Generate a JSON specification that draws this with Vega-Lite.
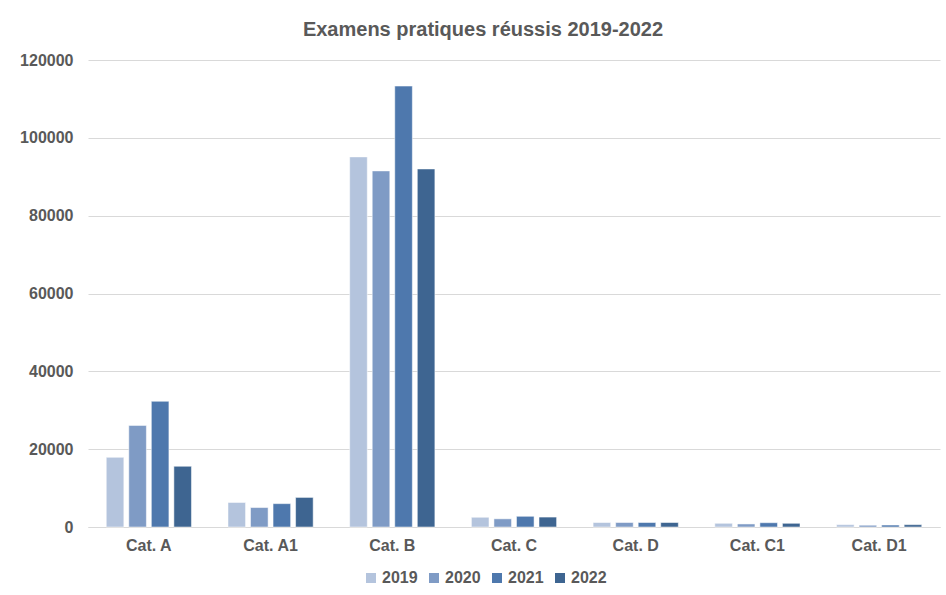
{
  "$schema": "https://vega.github.io/schema/vega-lite/v6.json",
  "autosize": "none",
  "width": 852,
  "height": 467,
  "padding": {"left": 88, "top": 60, "right": 6, "bottom": 68},
  "background": "white",
  "title": {
    "text": "Examens pratiques réussis 2019-2022",
    "font": "Liberation Sans",
    "fontSize": 20,
    "fontWeight": "bold",
    "color": "#595959",
    "anchor": "middle",
    "dx": -31,
    "offset": 12
  },
  "data": {
    "values": [
      {"cat": "Cat. A", "year": "2019", "value": 17900},
      {"cat": "Cat. A", "year": "2020", "value": 26100},
      {"cat": "Cat. A", "year": "2021", "value": 32300},
      {"cat": "Cat. A", "year": "2022", "value": 15600},
      {"cat": "Cat. A1", "year": "2019", "value": 6300},
      {"cat": "Cat. A1", "year": "2020", "value": 5000},
      {"cat": "Cat. A1", "year": "2021", "value": 6000},
      {"cat": "Cat. A1", "year": "2022", "value": 7600},
      {"cat": "Cat. B", "year": "2019", "value": 95100},
      {"cat": "Cat. B", "year": "2020", "value": 91500},
      {"cat": "Cat. B", "year": "2021", "value": 113300},
      {"cat": "Cat. B", "year": "2022", "value": 92000},
      {"cat": "Cat. C", "year": "2019", "value": 2500},
      {"cat": "Cat. C", "year": "2020", "value": 2100},
      {"cat": "Cat. C", "year": "2021", "value": 2750},
      {"cat": "Cat. C", "year": "2022", "value": 2550},
      {"cat": "Cat. D", "year": "2019", "value": 1150},
      {"cat": "Cat. D", "year": "2020", "value": 1150},
      {"cat": "Cat. D", "year": "2021", "value": 1150},
      {"cat": "Cat. D", "year": "2022", "value": 1150},
      {"cat": "Cat. C1", "year": "2019", "value": 950},
      {"cat": "Cat. C1", "year": "2020", "value": 780},
      {"cat": "Cat. C1", "year": "2021", "value": 1100},
      {"cat": "Cat. C1", "year": "2022", "value": 950},
      {"cat": "Cat. D1", "year": "2019", "value": 600},
      {"cat": "Cat. D1", "year": "2020", "value": 450},
      {"cat": "Cat. D1", "year": "2021", "value": 500},
      {"cat": "Cat. D1", "year": "2022", "value": 600}
    ]
  },
  "mark": {"type": "bar", "stroke": "white", "strokeWidth": 0.5},
  "encoding": {
    "x": {
      "field": "cat",
      "type": "nominal",
      "sort": ["Cat. A", "Cat. A1", "Cat. B", "Cat. C", "Cat. D", "Cat. C1", "Cat. D1"],
      "scale": {"paddingInner": 0.3, "paddingOuter": 0.15},
      "axis": {
        "title": null,
        "labelAngle": 0,
        "labelFont": "Liberation Sans",
        "labelFontSize": 16,
        "labelFontWeight": "bold",
        "labelColor": "#595959",
        "labelPadding": 10,
        "ticks": false,
        "domainColor": "#d9d9d9",
        "domainWidth": 1
      }
    },
    "xOffset": {
      "field": "year",
      "type": "nominal",
      "scale": {"paddingInner": 0.22, "paddingOuter": 0}
    },
    "y": {
      "field": "value",
      "type": "quantitative",
      "scale": {"domain": [0, 120000]},
      "axis": {
        "title": null,
        "values": [0, 20000, 40000, 60000, 80000, 100000, 120000],
        "format": "d",
        "labelFont": "Liberation Sans",
        "labelFontSize": 16,
        "labelFontWeight": "bold",
        "labelColor": "#595959",
        "labelPadding": 15,
        "ticks": false,
        "domain": false,
        "gridColor": "#d9d9d9",
        "gridWidth": 1
      }
    },
    "color": {
      "field": "year",
      "type": "nominal",
      "scale": {
        "domain": ["2019", "2020", "2021", "2022"],
        "range": ["#b4c4dd", "#7f9bc5", "#4e78ad", "#3e6591"]
      },
      "legend": {
        "title": null,
        "orient": "none",
        "legendX": 275,
        "legendY": 510,
        "direction": "horizontal",
        "symbolType": "square",
        "symbolSize": 100,
        "symbolStrokeWidth": 0,
        "labelFont": "Liberation Sans",
        "labelFontSize": 16,
        "labelFontWeight": "bold",
        "labelColor": "#595959",
        "columnPadding": 8,
        "labelOffset": 3
      }
    }
  },
  "config": {
    "view": {"stroke": null}
  }
}
